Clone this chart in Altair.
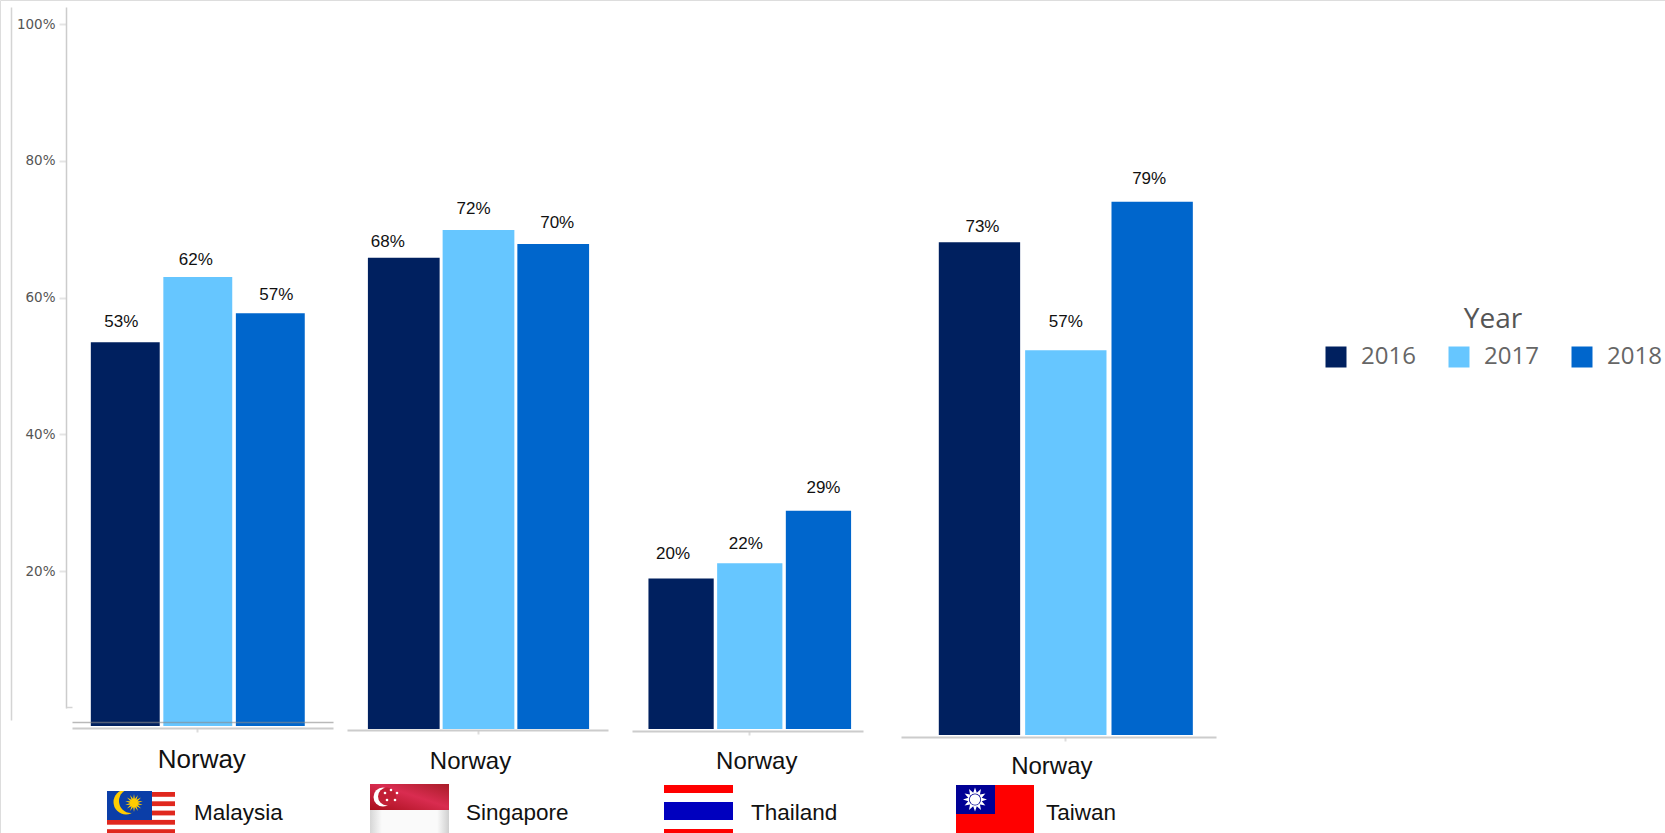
import math
from urllib.parse import quote

import altair as alt
import pandas as pd

# Survey results per market
YEARS = ["2016", "2017", "2018"]
YEAR_COLOURS = ["#00205f", "#66c6ff", "#0066cc"]
MARKETS = ["Malaysia", "Singapore", "Thailand", "Taiwan"]
GROUP_LABEL = "Norway"
VALUES_MALAYSIA = [53, 62, 57]
VALUES_SINGAPORE = [68, 72, 70]
VALUES_THAILAND = [20, 22, 29]
VALUES_TAIWAN = [73, 57, 79]
AXIS_TICKS = [20, 40, 60, 80, 100]

WIDTH, HEIGHT = 1665, 833
FONT = "Liberation Sans"


def svg_uri(w, h, body, defs=""):
    svg = (
        f'<svg xmlns="http://www.w3.org/2000/svg" width="{w}" height="{h}" '
        f'viewBox="0 0 {w} {h}"><defs>{defs}</defs>{body}</svg>'
    )
    return "data:image/svg+xml;charset=utf-8," + quote(svg)


def sun(cx, cy, r_in, r_out, n, colour):
    pts = []
    for i in range(2 * n):
        r = r_out if i % 2 == 0 else r_in
        a = math.pi * i / n
        pts.append(f"{cx + r * math.sin(a):.2f},{cy - r * math.cos(a):.2f}")
    return f'<polygon points="{" ".join(pts)}" fill="{colour}"/>'


def flag_malaysia():
    w, h = 68, 42
    body = f'<rect width="{w}" height="{h}" fill="#fff"/>'
    for i in range(5):
        body += f'<rect y="{1 + i * 9.3:.1f}" width="{w}" height="4.8" fill="#e0281e"/>'
    body += '<rect width="45" height="29" fill="#0b3ea8"/>'
    body += '<circle cx="19" cy="11" r="12.5" fill="#ffcc00"/><circle cx="24" cy="10" r="12" fill="#0b3ea8"/>'
    body += sun(27, 12, 4, 9, 14, "#ffcc00")
    return svg_uri(w, h, body)


def flag_singapore():
    w, h = 79, 49
    defs = (
        '<linearGradient id="r" x1="0" x2="1" y1="1" y2="0"><stop offset="0" stop-color="#a90f1c"/>'
        '<stop offset="0.55" stop-color="#d92c50"/><stop offset="1" stop-color="#a81d28"/></linearGradient>'
        '<linearGradient id="w" x1="0" x2="1"><stop offset="0" stop-color="#d6d6d6"/>'
        '<stop offset="0.15" stop-color="#fafafa"/><stop offset="0.85" stop-color="#fafafa"/>'
        '<stop offset="1" stop-color="#cfcfcf"/></linearGradient>'
    )
    body = f'<rect width="{w}" height="26" fill="url(#r)"/><rect y="26" width="{w}" height="23" fill="url(#w)"/>'
    body += '<circle cx="13" cy="13" r="9.5" fill="#fff"/><circle cx="17" cy="12.5" r="9" fill="#c21f35"/>'
    for x, y in [(21, 6), (27, 9), (25, 16), (17, 16), (15, 9)]:
        body += f'<circle cx="{x}" cy="{y}" r="1.3" fill="#fff"/>'
    return svg_uri(w, h, body, defs)


def flag_thailand():
    w, h = 69, 48
    body = (
        f'<rect width="{w}" height="{h}" fill="#fff"/>'
        f'<rect width="{w}" height="8" fill="#ff0000"/>'
        f'<rect y="17" width="{w}" height="18" fill="#0000bf"/>'
        f'<rect y="44" width="{w}" height="4" fill="#ff0000"/>'
    )
    return svg_uri(w, h, body)


def flag_taiwan():
    w, h = 78, 48
    body = (
        f'<rect width="{w}" height="{h}" fill="#ff0000"/>'
        '<rect width="39" height="29" fill="#000095"/>'
    )
    body += sun(19, 14.5, 7, 12, 12, "#fff")
    body += '<circle cx="19" cy="14.5" r="6" fill="#000095"/><circle cx="19" cy="14.5" r="5.2" fill="#fff"/>'
    return svg_uri(w, h, body)


PANELS = [
    dict(market="Malaysia", values=VALUES_MALAYSIA, x_range=[72, 333], align=0.4, pad=0.11, gap=0.05,
         base=726, top=2, axis_y=728, label_pad=14, label_size=26, label_dx=4,
         nudges=[(-4, -20), (-2, -17), (6, -18)]),
    dict(market="Singapore", values=VALUES_SINGAPORE, x_range=[347, 608], align=0.525, pad=0.09, gap=0.04,
         base=729, top=36, axis_y=730, label_pad=15, label_size=24, label_dx=-8,
         nudges=[(-16, -16), (-5, -21), (4, -21)]),
    dict(market="Thailand", values=VALUES_THAILAND, x_range=[632, 863], align=0.58, pad=0.07, gap=0.05,
         base=729, top=-24, axis_y=731, label_pad=14, label_size=24, label_dx=7,
         nudges=[(-8, -24), (-4, -19), (5, -23)]),
    dict(market="Taiwan", values=VALUES_TAIWAN, x_range=[901, 1216], align=0.62, pad=0.12, gap=0.058,
         base=735, top=60, axis_y=737, label_pad=13, label_size=24, label_dx=-14,
         nudges=[(3, -15), (0, -28), (-3, -23)]),
]

COUNTRY_LABELS = [("Malaysia", 194), ("Singapore", 466), ("Thailand", 751), ("Taiwan", 1046)]
FLAGS = [
    (flag_malaysia(), 107, 791, 68, 42),
    (flag_singapore(), 370, 784, 79, 49),
    (flag_thailand(), 664, 785, 69, 48),
    (flag_taiwan(), 956, 785, 78, 48),
]

colour_scale = alt.Scale(domain=YEARS, range=YEAR_COLOURS)
legend = alt.Legend(
    title="Year", orient="none", legendX=1324, legendY=306, direction="horizontal", columns=3,
    symbolType="square", symbolSize=441, symbolStrokeWidth=0, symbolOpacity=1,
    titleFont="Open Sans", titleFontSize=28, titleFontWeight="normal", titleColor="#555555",
    titleAnchor="middle", titlePadding=11, titleLimit=200,
    labelFont="Open Sans", labelFontSize=24, labelColor="#666666", labelOffset=13,
    columnPadding=31, labelLimit=200,
)


def panel_chart(p, show_legend):
    df = pd.DataFrame({"group": GROUP_LABEL, "year": YEARS, "value": p["values"]})
    x = alt.X(
        "group:N",
        title=None,
        scale=alt.Scale(range=p["x_range"], paddingInner=0, paddingOuter=p["pad"], align=p["align"]),
        axis=alt.Axis(
            orient="bottom", offset=p["axis_y"] - HEIGHT, domainColor="#cccccc", domainWidth=2,
            tickColor="#dddddd", tickSize=4, tickWidth=2, labelAngle=0, labelFont=FONT,
            labelFontSize=p["label_size"], labelColor="#111111", labelPadding=p["label_pad"],
            labelOffset=p["label_dx"], grid=False,
        ),
    )
    y = alt.Y(
        "value:Q",
        title=None,
        scale=alt.Scale(domain=[0, 100], range=[p["base"], p["top"]], nice=False),
        axis=None,
    )
    x_off = alt.XOffset("year:N", sort=YEARS, scale=alt.Scale(paddingInner=p["gap"], paddingOuter=0))
    bars = alt.Chart(df).mark_bar().encode(
        x=x, xOffset=x_off, y=y,
        color=alt.Color("year:N", scale=colour_scale, legend=legend if show_legend else None),
    )
    labels = []
    for year, (dx, dy) in zip(YEARS, p["nudges"]):
        labels.append(
            alt.Chart(df[df.year == year])
            .mark_text(font=FONT, fontSize=17, color="#111111", dx=dx, dy=dy, baseline="middle")
            .transform_calculate(pct="datum.value + '%'")
            .encode(x=x, xOffset=x_off, y=y, text="pct:N")
        )
    return alt.layer(bars, *labels)


def hidden_row():
    return alt.Data(values=[{"g": "guide", "v": 0}])


# Percentage axis on the far left
tick_df = pd.DataFrame({"v": AXIS_TICKS})
pct_axis = alt.Chart(tick_df).mark_point(opacity=0).encode(
    y=alt.Y(
        "v:Q", title=None,
        scale=alt.Scale(domain=[0, 102.5], range=[708, 7], nice=False),
        axis=alt.Axis(
            orient="left", values=AXIS_TICKS, offset=-66, labelExpr="datum.value + '%'", grid=False,
            domainColor="#cccccc", domainWidth=1.5, tickColor="#e4e4e4", tickSize=7, tickWidth=2,
            labelFont="DejaVu Sans", labelFontSize=13.5, labelColor="#555555", labelPadding=4,
        ),
    )
)

# Outer frame line beside the axis
frame_line = alt.Chart(hidden_row()).mark_point(opacity=0).encode(
    y=alt.Y(
        "v:Q", title=None,
        scale=alt.Scale(domain=[0, 1], range=[720, 7], nice=False),
        axis=alt.Axis(orient="left", values=[], offset=-11, labels=False, ticks=False, grid=False,
                      domainColor="#d4d4d4", domainWidth=1.5),
    )
)


def horizontal_guide(x_range, y_pos, colour, opacity=1.0, width=1.5):
    return alt.Chart(hidden_row()).mark_point(opacity=0).encode(
        x=alt.X(
            "g:N", title=None, scale=alt.Scale(range=x_range),
            axis=alt.Axis(orient="bottom", offset=y_pos - HEIGHT, labels=False, ticks=False, grid=False,
                          zindex=1, domainColor=colour, domainOpacity=opacity, domainWidth=width),
        )
    )


text_df = pd.DataFrame({"name": [c[0] for c in COUNTRY_LABELS]})
country_layers = [
    alt.Chart(text_df[text_df.name == name])
    .mark_text(font=FONT, fontSize=22.5, color="#111111", align="left", baseline="middle")
    .encode(text="name:N", x=alt.value(x_px), y=alt.value(813))
    for name, x_px in COUNTRY_LABELS
]

flag_layers = [
    alt.Chart(alt.Data(values=[{"src": uri}]))
    .mark_image(width=w, height=h, align="left", baseline="top")
    .encode(url="src:N", x=alt.value(x_px), y=alt.value(y_px))
    for uri, x_px, y_px, w, h in FLAGS
]

panels = [panel_chart(p, i == 0) for i, p in enumerate(PANELS)]

chart = (
    alt.layer(
        pct_axis,
        frame_line,
        horizontal_guide([66, 72], 707, "#d4d4d4"),
        *panels,
        horizontal_guide([72, 333], 722, "#8a8a8a", 0.6, 1.5),
        *flag_layers,
        *country_layers,
    )
    .resolve_scale(x="independent", y="independent", xOffset="independent", color="shared")
    .resolve_axis(x="independent", y="independent")
    .properties(width=WIDTH, height=HEIGHT, padding=0, autosize=alt.AutoSizeParams(type="none"))
    .configure_view(stroke="transparent", strokeWidth=0)
    .configure_axis(domainCap="butt")
    .configure(background="white")
)

chart.save("out.html", embed_options={"renderer": "svg", "actions": False})
